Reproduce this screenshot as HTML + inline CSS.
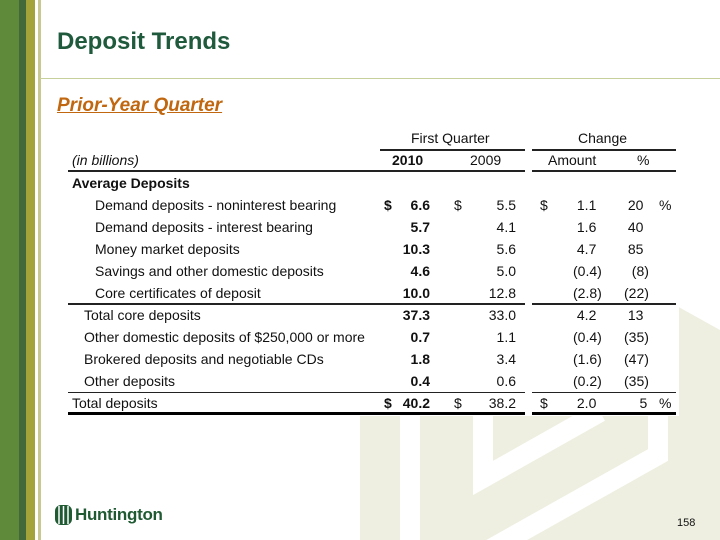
<!DOCTYPE html>
<html><head><meta charset="utf-8"><style>
body{margin:0;width:720px;height:540px;position:relative;overflow:hidden;background:#fff;font-family:"Liberation Sans",Arial,sans-serif;}
.a{position:absolute;white-space:nowrap;font-size:14px;color:#111;line-height:16px;}
.r{text-align:right;}
.b{font-weight:bold;}
.l{position:absolute;background:#222;}
.n{line-height:22px;}
</style></head><body>
<svg width="720" height="540" style="position:absolute;left:0;top:0">
<polygon points="360,330 540,230 720,330 720,540 360,540" fill="#eeefe0"/>
<g stroke="#fff" stroke-width="20" fill="none">
<line x1="410" y1="400" x2="410" y2="545"/>
<polyline points="483,400 483,478 600,412"/>
<polyline points="658,400 658,455 480,555"/>
</g>
<rect x="62" y="125" width="617" height="291" fill="#fff"/>
<rect x="0" y="0" width="19" height="540" fill="#5f8a3a"/>
<rect x="19" y="0" width="7" height="540" fill="#43693a"/>
<rect x="26" y="0" width="9" height="540" fill="#a3a33a"/>
<rect x="38" y="0" width="3" height="540" fill="#c8c890"/>
<rect x="40" y="78" width="680" height="1" fill="#c5d09a"/>
</svg>
<div class="a" style="left:57px;top:28px;font-size:24px;line-height:28px;font-weight:bold;color:#1f5a3c">Deposit Trends</div>
<div class="a" style="left:57px;top:95px;font-size:19px;line-height:22px;font-weight:bold;font-style:italic;text-decoration:underline;color:#c0670f">Prior-Year Quarter</div>

<div class="a" style="left:411px;top:130px">First Quarter</div>
<div class="a" style="left:578px;top:130px">Change</div>
<div class="l" style="left:380px;top:149px;width:145px;height:2px"></div>
<div class="l" style="left:532px;top:149px;width:144px;height:2px"></div>
<div class="a" style="left:72px;top:152px;font-style:italic">(in billions)</div>
<div class="a b" style="left:392px;top:152px">2010</div>
<div class="a" style="left:470px;top:152px">2009</div>
<div class="a" style="left:548px;top:152px">Amount</div>
<div class="a" style="left:637px;top:152px">%</div>
<div class="l" style="left:68px;top:170px;width:457px;height:2px"></div>
<div class="l" style="left:532px;top:170px;width:144px;height:2px"></div>
<div class="a b" style="left:72px;top:175px">Average Deposits</div>

<div class="a" style="left:95px;top:197px">Demand deposits - noninterest bearing</div>
<div class="a" style="left:95px;top:219px">Demand deposits - interest bearing</div>
<div class="a" style="left:95px;top:241px">Money market deposits</div>
<div class="a" style="left:95px;top:263px">Savings and other domestic deposits</div>
<div class="a" style="left:95px;top:285px">Core certificates of deposit</div>
<div class="a" style="left:84px;top:307px">Total core deposits</div>
<div class="a" style="left:84px;top:329px">Other domestic deposits of $250,000 or more</div>
<div class="a" style="left:84px;top:351px">Brokered deposits and negotiable CDs</div>
<div class="a" style="left:84px;top:373px">Other deposits</div>
<div class="a" style="left:72px;top:395px">Total deposits</div>

<div class="a b" style="left:384px;top:197px">$</div>
<div class="a" style="left:454px;top:197px">$</div>
<div class="a" style="left:540px;top:197px">$</div>
<div class="a" style="left:659px;top:197px">%</div>
<div class="a b" style="left:384px;top:395px">$</div>
<div class="a" style="left:454px;top:395px">$</div>
<div class="a" style="left:540px;top:395px">$</div>
<div class="a" style="left:659px;top:395px">%</div>

<div class="a b r n" style="left:380px;width:50px;top:194px">6.6<br>5.7<br>10.3<br>4.6<br>10.0<br>37.3<br>0.7<br>1.8<br>0.4<br>40.2</div>
<div class="a r n" style="left:466px;width:50px;top:194px">5.5<br>4.1<br>5.6<br>5.0<br>12.8<br>33.0<br>1.1<br>3.4<br>0.6<br>38.2</div>
<div class="a n" style="left:573px;width:40px;top:194px">&nbsp;1.1<br>&nbsp;1.6<br>&nbsp;4.7<br>(0.4)<br>(2.8)<br>&nbsp;4.2<br>(0.4)<br>(1.6)<br>(0.2)<br>&nbsp;2.0</div>
<div class="a n" style="left:624px;width:40px;top:194px">&nbsp;20<br>&nbsp;40<br>&nbsp;85<br>&nbsp;&nbsp;(8)<br>(22)<br>&nbsp;13<br>(35)<br>(47)<br>(35)<br>&nbsp;&nbsp;&nbsp;&nbsp;5</div>

<div class="l" style="left:68px;top:303px;width:457px;height:2px"></div>
<div class="l" style="left:532px;top:303px;width:144px;height:2px"></div>
<div class="l" style="left:68px;top:392px;width:457px;height:1px"></div>
<div class="l" style="left:532px;top:392px;width:144px;height:1px"></div>
<div class="l" style="left:68px;top:412px;width:457px;height:3px;background:#000"></div>
<div class="l" style="left:532px;top:412px;width:144px;height:3px;background:#000"></div>

<svg width="20" height="24" style="position:absolute;left:54px;top:503px">
<rect x="1" y="2" width="17" height="20" rx="6" fill="#1f5a33"/>
<g stroke="#fff" stroke-width="1.5"><line x1="5" y1="3" x2="5" y2="21"/><line x1="9.5" y1="3" x2="9.5" y2="21"/><line x1="14" y1="3" x2="14" y2="21"/></g>
</svg>
<div class="a b" style="left:75px;top:505px;font-size:17px;line-height:20px;color:#1f5a33;letter-spacing:-0.3px">Huntington</div>
<div class="a" style="left:677px;top:517px;font-size:11px;line-height:13px">158</div>
</body></html>
